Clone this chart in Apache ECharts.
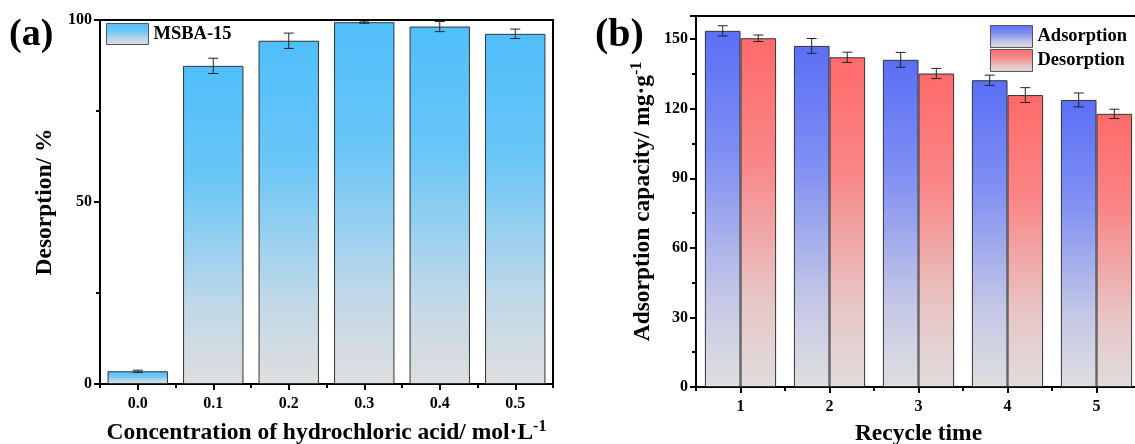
<!DOCTYPE html>
<html>
<head>
<meta charset="utf-8">
<script src="https://cdn.jsdelivr.net/npm/echarts@6/dist/echarts.min.js"></script>
<style>
html,body{margin:0;padding:0;background:#fff;}
#c{width:1135px;height:444px;}
</style>
</head>
<body>
<div id="c"></div>
<script>
// ---- Data ----
const catsA = ['0.0', '0.1', '0.2', '0.3', '0.4', '0.5'];
const desorptionA = [3.5, 87.4, 94.3, 99.4, 98.2, 96.2];
const desorptionErrA = [0.3, 2.1, 2.1, 0.3, 1.4, 1.3];

const catsB = ['1', '2', '3', '4', '5'];
const adsorptionB = [153.6, 147.1, 141.1, 132.3, 123.8];
const adsorptionErrB = [2.2, 3.2, 3.2, 2.2, 3.0];
const desorptionB = [150.4, 142.2, 135.2, 125.9, 117.8];
const desorptionErrB = [1.4, 2.2, 2.2, 3.2, 2.0];

const ticksA = [0, 50, 100];
const ticksB = [0, 30, 60, 90, 120, 150];

// ---- Styles ----
const FONT = "'Liberation Serif','Times New Roman',serif";
const BLACK = '#000';

function grad(stops) {
  return new echarts.graphic.LinearGradient(0, 0, 0, 1,
    stops.map(s => ({ offset: s[0], color: s[1] })));
}

function errData(vals, errs) {
  return vals.map((v, i) => [i, v - errs[i], v + errs[i]]);
}

function errRender(offsetFrac) {
  return function (params, api) {
    const xi = api.value(0);
    const lo = api.value(1);
    const hi = api.value(2);
    const band = api.size([1, 0])[0];
    const p1 = api.coord([xi, hi]);
    const p2 = api.coord([xi, lo]);
    const x = p1[0] + offsetFrac * band;
    const cap = 5;
    const st = { stroke: '#222', lineWidth: 1 };
    return {
      type: 'group',
      children: [
        { type: 'line', shape: { x1: x, y1: p1[1], x2: x, y2: p2[1] }, style: st },
        { type: 'line', shape: { x1: x - cap, y1: p1[1], x2: x + cap, y2: p1[1] }, style: st },
        { type: 'line', shape: { x1: x - cap, y1: p2[1], x2: x + cap, y2: p2[1] }, style: st }
      ]
    };
  };
}

const axisLineStyle = { color: BLACK, width: 2 };
const labelStyle = { color: BLACK, fontFamily: FONT, fontWeight: 'bold', fontSize: 16 };
const nameStyle = {
  color: BLACK, fontFamily: FONT, fontWeight: 'bold', fontSize: 23.5,
  rich: { sup: { fontFamily: FONT, fontWeight: 'bold', fontSize: 16, verticalAlign: 'top', color: BLACK, padding: [0, 0, 11, 0] } }
};

function catAxes(grid, cats, name, nameGap) {
  return [
    {
      type: 'category', gridIndex: grid, data: cats, position: 'bottom',
      axisLine: { show: true, lineStyle: axisLineStyle },
      axisTick: { show: true, alignWithLabel: true, length: 6, inside: false, lineStyle: { color: BLACK, width: 2 } },
      axisLabel: Object.assign({ margin: 12 }, labelStyle),
      splitLine: { show: false },
      name: name, nameLocation: 'middle', nameGap: nameGap, nameTextStyle: nameStyle
    },
    {
      type: 'category', gridIndex: grid, data: cats, position: 'bottom',
      axisLine: { show: false },
      axisTick: { show: true, alignWithLabel: false, length: 4, inside: false, lineStyle: { color: BLACK, width: 2 } },
      axisLabel: { show: false },
      splitLine: { show: false }
    }
  ];
}

function valAxis(grid, min, max, interval, ticks, name, nameGap) {
  return {
    type: 'value', gridIndex: grid, min: min, max: max, interval: interval,
    axisLine: { show: true, lineStyle: axisLineStyle },
    axisTick: { show: true, length: 6, inside: false, lineStyle: { color: BLACK, width: 2 } },
    minorTick: { show: true, splitNumber: 2, length: 4, lineStyle: { color: BLACK, width: 2 } },
    axisLabel: Object.assign({
      margin: 8,
      formatter: function (v) { return ticks.indexOf(v) >= 0 ? String(v) : ''; }
    }, labelStyle),
    splitLine: { show: false },
    name: name, nameLocation: 'middle', nameGap: nameGap, nameTextStyle: nameStyle
  };
}

const legendText = { color: BLACK, fontFamily: FONT, fontWeight: 'bold', fontSize: 18.5 };

const chart = echarts.init(document.getElementById('c'), null, { renderer: 'canvas' });

const option = {
  backgroundColor: '#fff',
  animation: false,
  grid: [
    { left: 100, top: 20, width: 453, height: 364, show: true, borderColor: BLACK, borderWidth: 2, backgroundColor: 'transparent', containLabel: false, outerBoundsMode: 'none' },
    { left: 696, top: 16, width: 445, height: 371, show: true, borderColor: BLACK, borderWidth: 2, backgroundColor: 'transparent', containLabel: false, outerBoundsMode: 'none' }
  ],
  xAxis: [
    ...catAxes(0, catsA, 'Concentration of hydrochloric acid/ mol·L{sup|-1}', 35),
    ...catAxes(1, catsB, 'Recycle time', 35)
  ],
  yAxis: [
    valAxis(0, 0, 100, 50, ticksA, 'Desorption/ %', 43),
    valAxis(1, 0, 160, 30, ticksB, 'Adsorption capacity/ mg·g{sup|-1}', 40)
  ],
  legend: [
    {
      data: ['MSBA-15'], left: 106, top: 23, padding: 0, itemWidth: 42, itemHeight: 21, icon: 'rect',
      itemStyle: { borderColor: '#555', borderWidth: 1 },
      textStyle: legendText
    },
    {
      data: ['Adsorption', 'Desorption'], left: 990, top: 25, padding: 0, orient: 'vertical', itemGap: 1,
      itemWidth: 42, itemHeight: 22, icon: 'rect',
      itemStyle: { borderColor: '#555', borderWidth: 1 },
      textStyle: legendText
    }
  ],
  graphic: [
    { type: 'text', left: 9, top: 16, style: { text: '(a)', fontFamily: FONT, fontWeight: 'bold', fontSize: 38, fill: BLACK } },
    { type: 'text', left: 595, top: 16, style: { text: '(b)', fontFamily: FONT, fontWeight: 'bold', fontSize: 40, fill: BLACK } }
  ],
  series: [
    {
      name: 'MSBA-15', type: 'bar', xAxisIndex: 0, yAxisIndex: 0, data: desorptionA,
      barWidth: '80%',
      itemStyle: {
        color: grad([[0, '#4FBFFB'], [0.35, '#69C6F7'], [0.75, '#BFD8E8'], [1, '#DEDEDE']]),
        borderColor: '#333', borderWidth: 1
      }
    },
    {
      type: 'custom', xAxisIndex: 0, yAxisIndex: 0, renderItem: errRender(0),
      data: errData(desorptionA, desorptionErrA), encode: { x: 0, y: [1, 2] }, z: 5, silent: true
    },
    {
      name: 'Adsorption', type: 'bar', xAxisIndex: 2, yAxisIndex: 1, data: adsorptionB,
      barWidth: '40%', barGap: '0%',
      itemStyle: {
        color: grad([[0, '#5A6FF6'], [0.35, '#808FF2'], [0.75, '#C4C8E6'], [1, '#DEDEDE']]),
        borderColor: '#333', borderWidth: 1
      }
    },
    {
      name: 'Desorption', type: 'bar', xAxisIndex: 2, yAxisIndex: 1, data: desorptionB,
      barWidth: '40%', barGap: '0%',
      itemStyle: {
        color: grad([[0, '#FF6A6A'], [0.35, '#F98686'], [0.75, '#E8C6C6'], [1, '#E0DCDC']]),
        borderColor: '#333', borderWidth: 1
      }
    },
    {
      type: 'custom', xAxisIndex: 2, yAxisIndex: 1, renderItem: errRender(-0.2),
      data: errData(adsorptionB, adsorptionErrB), encode: { x: 0, y: [1, 2] }, z: 5, silent: true
    },
    {
      type: 'custom', xAxisIndex: 2, yAxisIndex: 1, renderItem: errRender(0.2),
      data: errData(desorptionB, desorptionErrB), encode: { x: 0, y: [1, 2] }, z: 5, silent: true
    }
  ]
};

chart.setOption(option);
</script>
</body>
</html>
